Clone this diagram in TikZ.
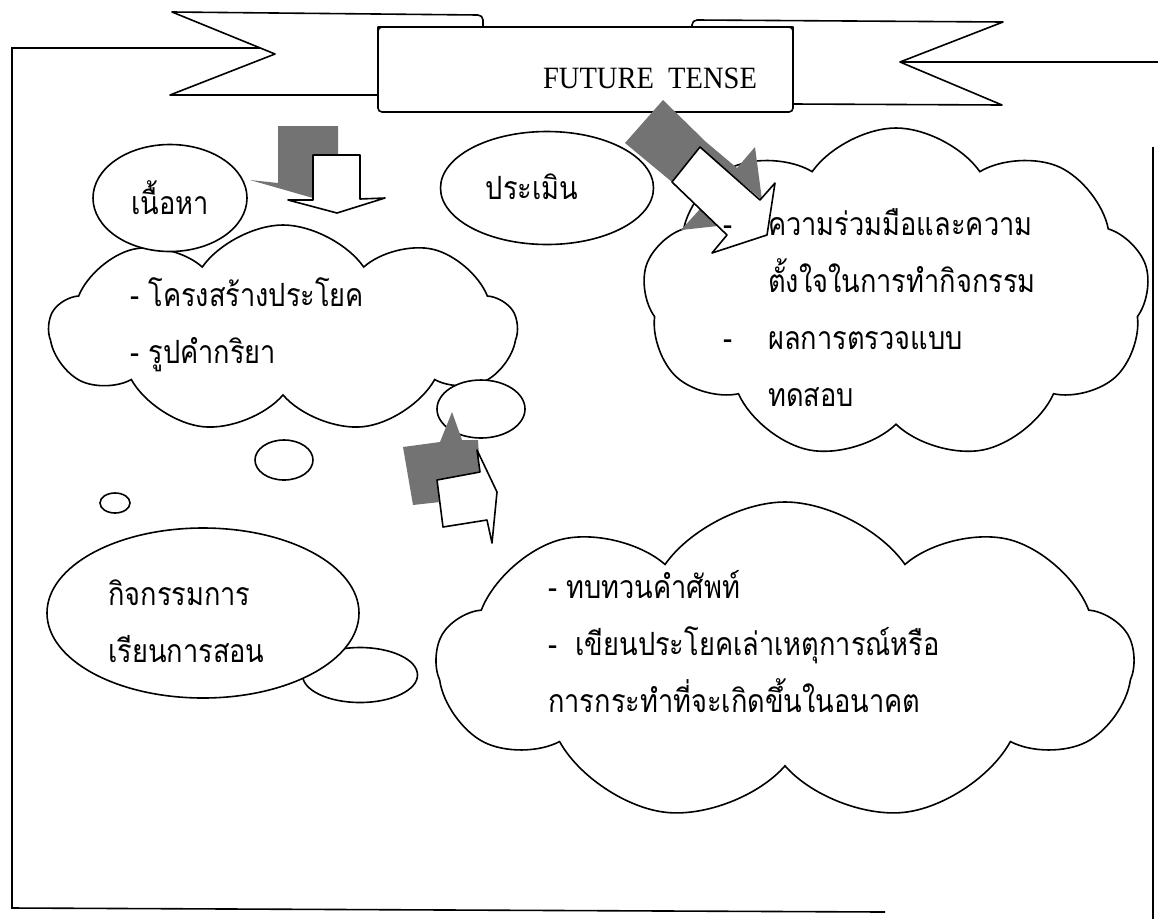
\documentclass[tikz,border=0pt]{standalone}
\usepackage{fontspec}
\newfontfamily\thaifont[Script=Thai, FakeStretch=0.85]{Loma}
\newfontfamily\bannerfont[FakeStretch=0.92]{Liberation Serif}
\usetikzlibrary{shapes.geometric,shapes.symbols}

\tikzset{
  thai/.style={font=\thaifont\fontsize{32}{57}\selectfont, align=left, inner sep=0pt},
  puff/.style={cloud, cloud puffs=9, cloud puff arc=110, cloud ignores aspect, draw, fill=white, line width=1.6pt, inner sep=0pt},
  bubble/.style={ellipse, draw, fill=white, line width=1.6pt, inner sep=0pt},
  shade3d/.style={fill=black!55},
  blockarrow/.style={draw, fill=white, line width=1.6pt, line join=round},
  ribbon/.style={draw, fill=white, line width=1.6pt, line join=round},
}

\begin{document}
\begin{tikzpicture}[x=1pt, y=-1pt]
    \useasboundingbox (0,0) rectangle (1158,919);

    % Frame
    \draw[line width=1.6pt] (263,48) -- (12,48) -- (12,908) -- (885,912);
    \draw[line width=1.6pt] (900,62) -- (1158,62);
    \draw[line width=1.6pt] (1153,147) -- (1153,919);

    % Banner
    \draw[ribbon] (478,15) -- (172,12) -- (275,54) -- (170,95) -- (378,95) -- (378,27) -- (483,27) -- (483,20) to[out=90,in=0] cycle;
    \draw[ribbon] (697,20) -- (1003,22) -- (900,62) -- (1002,105) -- (793,104) -- (793,27) -- (692,27) -- (692,25) to[out=90,in=180] cycle;
    \node[draw, fill=white, line width=1.6pt, rounded corners=4pt, minimum width=415pt, minimum height=85pt] (banner) at (585.5,69.5) {};
    \node[font=\bannerfont\fontsize{31}{31}\selectfont] (title) at (650,78) {FUTURE\ \ TENSE};

    % Clouds and bubbles
    \node[puff, minimum width=467pt, minimum height=208pt] (contentcloud) at (283,329) {};
    \node[puff, minimum width=507pt, minimum height=332pt] (evalcloud) at (896,294) {};
    \node[puff, minimum width=696pt, minimum height=320pt] (actcloud) at (785,662) {};
    \node[bubble, minimum width=88pt, minimum height=58pt] (bubblea) at (481,409) {};
    \node[bubble, minimum width=58pt, minimum height=40pt] (bubbleb) at (284,460) {};
    \node[bubble, minimum width=30pt, minimum height=20pt] (bubblec) at (115,503) {};
    \node[bubble, minimum width=115pt, minimum height=55pt] (bubbled) at (360,675) {};

    % Topic ellipses
    \node[bubble, thai, minimum width=154pt, minimum height=107pt] (content) at (170,198) {เนื้อหา};
    \node[bubble, minimum width=213pt, minimum height=113pt] (eval) at (547,188) {};
    \node[bubble, minimum width=312pt, minimum height=170pt] (act) at (203,613) {};

    % Block arrows with shadows
    \fill[shade3d] (278,126) -- (338,126) -- (338,160) -- (313,160) -- (313,198) -- (250,180) -- (278,183) -- cycle;
    \draw[blockarrow] (313,155) -- (360,155) -- (360,199) -- (385,198) -- (337,213) -- (288,200) -- (313,200) -- cycle;

    \fill[shade3d] (663,100) -- (706,142) -- (737,168) -- (755,147) -- (762,200) -- (700,147) -- (672,182) -- (625,143) -- cycle;
    \fill[shade3d] (700,209) -- (681,230) -- (718,226) -- cycle;
    \draw[blockarrow] (672,182) -- (700,147) -- (760,200) -- (775,183) -- (767,235) -- (712,253) -- (727,235) -- cycle;

    \fill[shade3d] (403,447) -- (440,442) -- (452,412) -- (462,440) -- (478,440) -- (480,472) -- (437,480) -- (440,502) -- (413,505) -- cycle;
    \draw[blockarrow] (437,480) -- (480,472) -- (477,450) -- (497,492) -- (492,543) -- (487,520) -- (443,527) -- cycle;

    % Texts
    \node[thai] (evallbl) at (532,187) {ประเมิน};
    \node[thai, anchor=west] (contentlist) at (130,324.5) {- โครงสร้างประโยค\\- รูปคำกริยา};
    \node[thai, anchor=west] (evallist) at (723,308) {\makebox[45pt][l]{-}ความร่วมมือและความ\\\hspace*{45pt}ตั้งใจในการทำกิจกรรม\\\makebox[45pt][l]{-}ผลการตรวจแบบ\\\hspace*{45pt}ทดสอบ};
    \node[thai, anchor=west] (actlbl) at (108,621) {กิจกรรมการ\\เรียนการสอน};
    \node[thai, anchor=west] (actlist) at (548,642) {- ทบทวนคำศัพท์\\-\ \ เขียนประโยคเล่าเหตุการณ์หรือ\\การกระทำที่จะเกิดขึ้นในอนาคต};
\end{tikzpicture}
\end{document}
